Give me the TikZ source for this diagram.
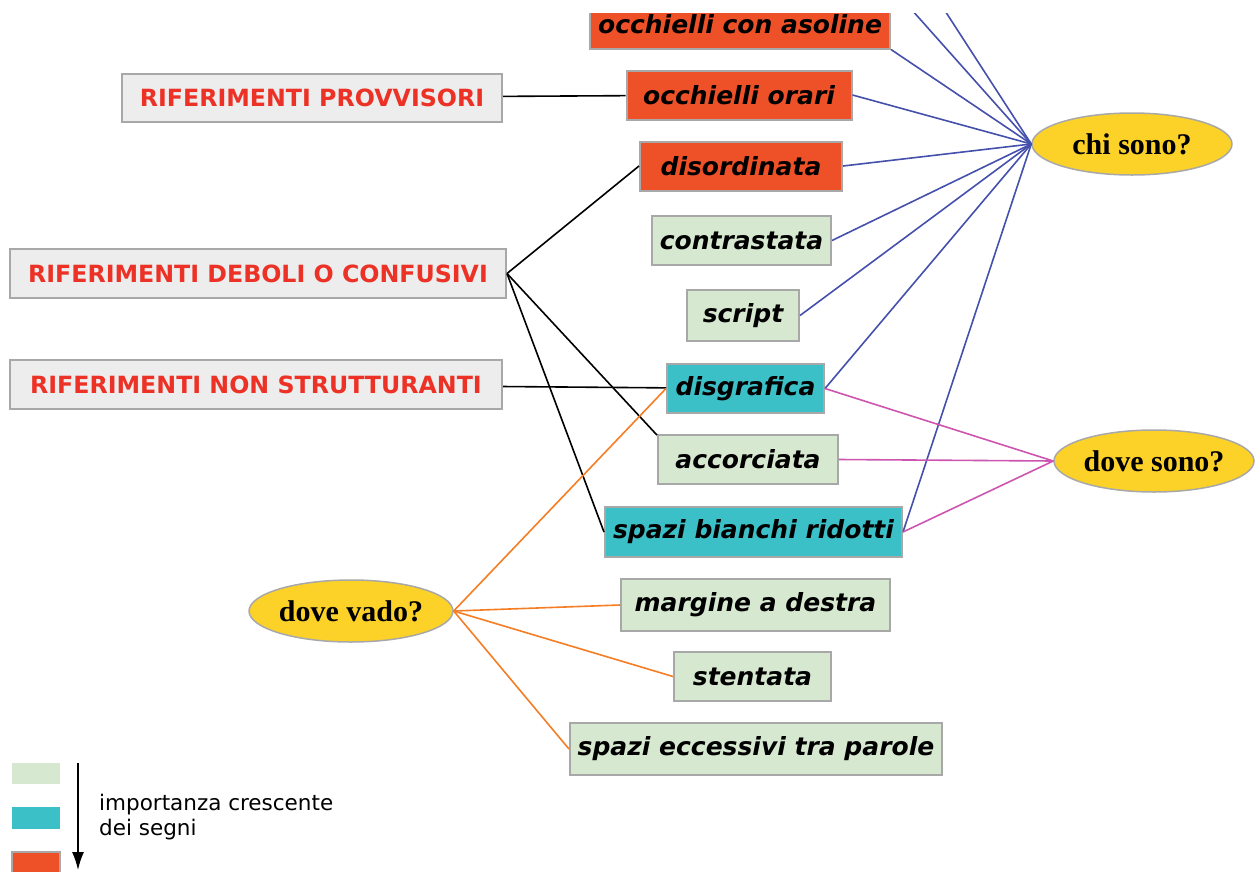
\documentclass[tikz,border=0pt]{standalone}
\usepackage{fontspec}
\usepackage{tikz}
\usetikzlibrary{shapes,arrows,arrows.meta,positioning}
\newfontfamily\signfont{DejaVu Sans}
\newfontfamily\askfont{Liberation Serif}
\definecolor{signgreen}{RGB}{214, 232, 207}
\definecolor{signteal}{RGB}{60, 192, 200}
\definecolor{signorange}{RGB}{238, 81, 40}
\definecolor{refgray}{RGB}{237, 237, 237}
\definecolor{refred}{RGB}{236, 50, 38}
\definecolor{bordergray}{RGB}{168, 168, 168}
\definecolor{askyellow}{RGB}{253, 210, 40}
\definecolor{chiblue}{RGB}{68, 80, 172}
\definecolor{dovepink}{RGB}{205, 85, 175}
\definecolor{vadoorange}{RGB}{245, 125, 35}
\tikzstyle{ref} = [rectangle, draw=bordergray, line width=2pt, fill=refgray, text=refred, font=\signfont\bfseries\fontsize{23.7}{28}\selectfont, minimum height=49pt, inner sep=0pt]
\tikzstyle{sign} = [rectangle, draw=bordergray, line width=2pt, text=black, font=\signfont\bfseries\itshape\fontsize{25}{28}\selectfont, minimum height=49pt, inner sep=0pt]
\tikzstyle{lowsign} = [sign, fill=signgreen]
\tikzstyle{midsign} = [sign, fill=signteal]
\tikzstyle{highsign} = [sign, fill=signorange]
\tikzstyle{ask} = [ellipse, draw=bordergray, line width=1.5pt, fill=askyellow, text=black, font=\askfont\bfseries\fontsize{30}{32}\selectfont, minimum width=200pt, minimum height=62pt, inner sep=0pt]
\tikzstyle{refedge} = [draw, line width=1.6pt, black]
\tikzstyle{chiedge} = [draw, line width=1.6pt, chiblue]
\tikzstyle{doveedge} = [draw, line width=1.6pt, dovepink]
\tikzstyle{vadoedge} = [draw, line width=1.6pt, vadoorange]
\tikzstyle{keyedge} = [line width=1.6pt, -{Latex[length=18pt, width=12pt]}]

\begin{document}
\begin{tikzpicture}[x=1pt, y=-1pt]
\useasboundingbox (0,0) rectangle (1256,871);
\clip (0,13) rectangle (1256,871);

% signs =============================
\node[highsign, minimum width=300pt] (asoline) at (740,24) {occhielli con asoline};
\node[highsign, minimum width=225pt] (orari) at (739,95) {occhielli orari};
\node[highsign, minimum width=202pt] (disord) at (741,166) {disordinata};
\node[lowsign, minimum width=179pt] (contrast) at (741.5,240.5) {contrastata};
\node[lowsign, minimum width=112pt, minimum height=51pt] (script) at (743,315.5) {script};
\node[midsign, minimum width=157pt] (disgraf) at (745.5,388.5) {disgrafica};
\node[lowsign, minimum width=180pt] (accorc) at (748,459.5) {accorciata};
\node[midsign, minimum width=297pt, minimum height=50pt] (spazirid) at (753.5,532) {spazi bianchi ridotti};
\node[lowsign, minimum width=269pt, minimum height=52pt] (margine) at (755.5,605) {margine a destra};
\node[lowsign, minimum width=157pt] (stentata) at (752.5,676.5) {stentata};
\node[lowsign, minimum width=372pt, minimum height=52pt] (spaziecc) at (756,749) {spazi eccessivi tra parole};

% references
\node[ref, minimum width=380pt, minimum height=48pt] (provv) at (312,97.5) {RIFERIMENTI PROVVISORI};
\node[ref, minimum width=496pt] (deboli) at (258,273.5) {RIFERIMENTI DEBOLI O CONFUSIVI};
\node[ref, minimum width=492pt] (nonstrut) at (256,384.5) {RIFERIMENTI NON STRUTTURANTI};

% questions
\node[ask] (chi) at (1132,144) {chi sono?};
\node[ask] (dovesono) at (1154,461) {dove sono?};
\node[ask] (dovevado) at (351,611) {dove vado?};

\coordinate (up1) at (903,0);
\coordinate (up2) at (938,0);

% edges
\path[refedge] (provv) edge (orari);
\path[refedge] (deboli.east) edge (disord.west);
\path[refedge] (deboli.east) edge (accorc.165);
\path[refedge] (deboli.east) edge (spazirid.west);
\path[refedge] (nonstrut) edge (disgraf);

\path[chiedge] (chi.west) edge (up1);
\path[chiedge] (chi.west) edge (up2);
\path[chiedge] (chi.west) edge (asoline.south east);
\path[chiedge] (chi.west) edge (orari.east);
\path[chiedge] (chi.west) edge (disord.east);
\path[chiedge] (chi.west) edge (contrast.east);
\path[chiedge] (chi.west) edge (script.east);
\path[chiedge] (chi.west) edge (disgraf.east);
\path[chiedge] (chi.west) edge (spazirid.east);

\path[doveedge] (dovesono.west) edge (disgraf.east);
\path[doveedge] (dovesono.west) edge (accorc.east);
\path[doveedge] (dovesono.west) edge (spazirid.east);

\path[vadoedge] (dovevado.east) edge (disgraf.west);
\path[vadoedge] (dovevado.east) edge (margine.west);
\path[vadoedge] (dovevado.east) edge (stentata.west);
\path[vadoedge] (dovevado.east) edge (spaziecc.west);

% legend
\node[fill=signgreen, minimum width=48pt, minimum height=21pt, inner sep=0pt] (keylow) at (36,773.5) {};
\node[fill=signteal, minimum width=48pt, minimum height=22pt, inner sep=0pt] (keymid) at (36,818) {};
\node[fill=signorange, draw=bordergray, line width=2pt, minimum width=48pt, minimum height=24pt, inner sep=0pt] (keyhigh) at (36,864) {};
\coordinate (keytop) at (78,763);
\coordinate (keybot) at (78,870);
\draw[keyedge] (keytop) -- (keybot);
\node[anchor=west, align=left, inner sep=0pt, font=\signfont\fontsize{21.5}{25}\selectfont] (keytext) at (99,817) {importanza crescente\\dei segni};

\end{tikzpicture}
\end{document}
